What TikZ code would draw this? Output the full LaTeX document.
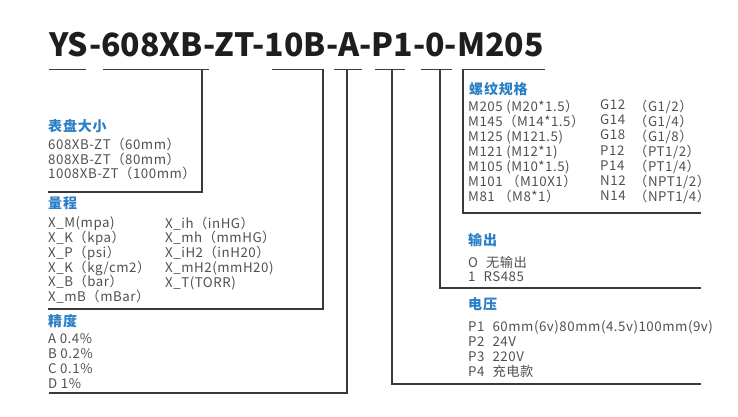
\documentclass[tikz,border=0pt]{standalone}
\usepackage{fontspec}
\setmainfont{Noto Sans CJK SC}[LetterSpace=4]
\usetikzlibrary{positioning}
\definecolor{headblue}{HTML}{2A7FC6}
\definecolor{bodygray}{HTML}{505050}
\definecolor{rulegray}{HTML}{3A3A3A}
\definecolor{codeblack}{HTML}{1E1E1E}

\begin{document}
\begin{tikzpicture}[
    x=1pt, y=-1pt,
    code/.style={anchor=base west, inner sep=0pt, text=codeblack,
      font=\fontsize{32}{32}\selectfont\bfseries\addfontfeature{LetterSpace=0}},
    head/.style={anchor=base west, inner sep=0pt, text=headblue,
      font=\fontsize{14}{14}\selectfont\bfseries\addfontfeature{LetterSpace=6}},
    entry/.style={anchor=north west, inner sep=0pt, align=left, text=bodygray,
      font=\fontsize{13.3}{14.8}\selectfont, execute at begin node=\strut},
    rule/.style={draw=rulegray, line width=1.2pt},
    ]
    \useasboundingbox (0,0) rectangle (738,417);

    \node[code] (model) at (49,57) {YS-608XB-ZT-10B-A-P1-0-M205};

    % brackets under the model code
    \draw[rule] (49,69.5) -- (86,69.5);
    \draw[rule] (103,69.5) -- (209,69.5) (202,69.5) -- (202,192) -- (48,192);
    \draw[rule] (272,69.5) -- (323,69.5) -- (323,309) -- (48,309);
    \draw[rule] (334,69.5) -- (362,69.5) (347,69.5) -- (347,393) -- (49,393);
    \draw[rule] (375,69.5) -- (405,69.5) (392,69.5) -- (392,384) -- (701,384);
    \draw[rule] (421,69.5) -- (452,69.5) (440,69.5) -- (440,288) -- (701,288);
    \draw[rule] (545,69.5) -- (463,69.5) -- (463,213) -- (701,213);

    % dial size
    \node[head] (sizehead) at (48,131.5) {表盘大小};
    \node[entry] (sizelist) at (48,137.8)
      {608XB-ZT（60mm）\\808XB-ZT（80mm）\\1008XB-ZT（100mm）};

    % range
    \node[head] (rangehead) at (48,208.5) {量程};
    \node[entry] (rangeleft) at (48,216.6)
      {X\_M(mpa)\\X\_K（kpa）\\X\_P（psi）\\X\_K（kg/cm2）\\X\_B（bar）\\X\_mB（mBar）};
    \node[entry] (rangeright) at (165,216.6)
      {X\_ih（inHG）\\X\_mh（mmHG）\\X\_iH2（inH20）\\X\_mH2(mmH20)\\X\_T(TORR)};

    % accuracy
    \node[head] (acchead) at (48,326.5) {精度};
    \node[entry] (acclist) at (48,333.6)
      {A 0.4\%\\B 0.2\%\\C 0.1\%\\D 1\%};

    % thread
    \node[head] (threadhead) at (469,94.5) {螺纹规格};
    \node[entry, font=\fontsize{13.3}{15.1}\selectfont] (threadleft) at (468,99.6)
      {M205 (M20*1.5）\\M145（M14*1.5）\\M125 (M121.5)\\M121 (M12*1)\\M105 (M10*1.5)\\M101 （M10X1）\\M81 （M8*1）};
    \node[entry, font=\fontsize{13.3}{15.1}\selectfont] (threadmid) at (600,99.6)
      {G12\\G14\\G18\\P12\\P14\\N12\\N14};
    \node[entry, font=\fontsize{13.3}{15.1}\selectfont] (threadright) at (634,99.6)
      {（G1/2）\\（G1/4）\\（G1/8）\\（PT1/2）\\（PT1/4）\\（NPT1/2）\\（NPT1/4）};

    % output
    \node[head] (outhead) at (468,245.5) {输出};
    \node[entry] (outlist) at (468,255.6)
      {O\hspace{8pt}无输出\\1\hspace{8pt}RS485};

    % voltage
    \node[head] (volthead) at (468,309.5) {电压};
    \node[entry, font=\fontsize{13.3}{15}\selectfont] (voltlist) at (468,320.6)
      {P1\hspace{8pt}60mm(6v)80mm(4.5v)100mm(9v)\\P2\hspace{8pt}24V\\P3\hspace{8pt}220V\\P4\hspace{8pt}充电款};

  \end{tikzpicture}
\end{document}
